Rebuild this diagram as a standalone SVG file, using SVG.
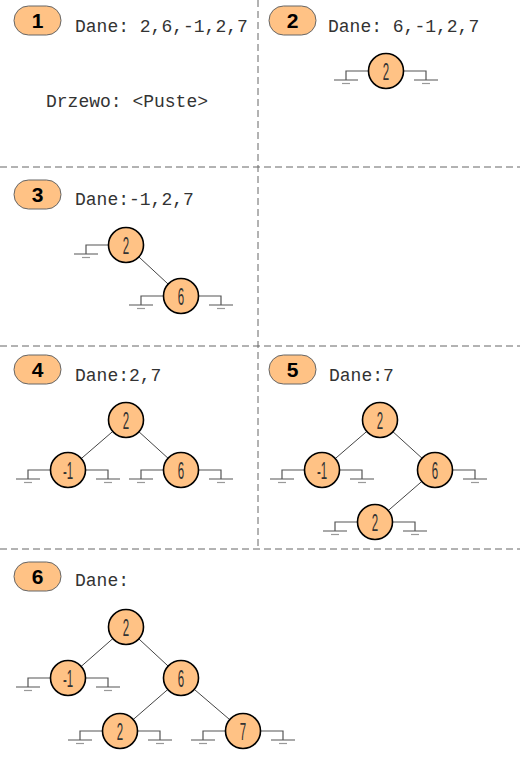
<svg xmlns="http://www.w3.org/2000/svg" xmlns:xlink="http://www.w3.org/1999/xlink" width="520" height="768" viewBox="0 0 520 768">
<style>
.sep{stroke:#666;stroke-width:1;stroke-dasharray:7,4;fill:none}
.badge{fill:#FFC285;stroke:#666;stroke-width:1}
.bnum{font-family:"Liberation Sans",Arial,sans-serif;font-weight:bold;font-size:21px;text-anchor:middle;fill:#000}
.data{font-family:"Liberation Mono","Courier New",monospace;font-size:18px;fill:#333}
.node{fill:#FFC285;stroke:#000;stroke-width:1.6}
.lbl{font-family:"Liberation Sans",Arial,sans-serif;font-size:23px;text-anchor:middle;fill:#333}
.edge{stroke:#444;stroke-width:1;fill:none}
.gnd{stroke:#555;stroke-width:1.2;fill:none}
.gnd2{stroke:#999;stroke-width:1.2;fill:none}
</style>
<defs>
<g id="gl"><path class="gnd" d="M-17.5 0H-40V9M-52 9H-28"/><path class="gnd2" d="M-44 12.5H-36"/></g>
<g id="gr"><path class="gnd" d="M17.5 0H40V9M28 9H52"/><path class="gnd2" d="M36 12.5H44"/></g>
</defs>
<rect width="520" height="768" fill="#fff"/>
<g id="separators">
<path class="sep" d="M0 167H520M0 346H520M0 549H520M258 0V549"/>
</g>
<g id="panel1">
<rect class="badge" x="14" y="6" width="47" height="29" rx="14.5"/>
<text class="bnum" x="37.5" y="28">1</text>
<text class="data" x="75" y="32">Dane: 2,6,-1,2,7</text>
<text class="data" x="46" y="107">Drzewo: &lt;Puste&gt;</text>
</g>
<g id="panel2">
<rect class="badge" x="269" y="6" width="47" height="29" rx="14.5"/>
<text class="bnum" x="292.5" y="28">2</text>
<text class="data" x="328" y="32">Dane: 6,-1,2,7</text>
</g>
<g id="panel3">
<rect class="badge" x="14" y="180" width="47" height="29" rx="14.5"/>
<text class="bnum" x="37.5" y="202">3</text>
<text class="data" x="75" y="205">Dane:-1,2,7</text>
</g>
<g id="panel4">
<rect class="badge" x="14" y="355" width="47" height="29" rx="14.5"/>
<text class="bnum" x="37.5" y="377">4</text>
<text class="data" x="75" y="381">Dane:2,7</text>
</g>
<g id="panel5">
<rect class="badge" x="269" y="355" width="47" height="29" rx="14.5"/>
<text class="bnum" x="292.5" y="377">5</text>
<text class="data" x="329" y="381">Dane:7</text>
</g>
<g id="panel6">
<rect class="badge" x="14" y="562" width="47" height="29" rx="14.5"/>
<text class="bnum" x="37.5" y="584">6</text>
<text class="data" x="75" y="586">Dane:</text>
</g>
<g id="connectors">
<line class="edge" x1="126" y1="245" x2="181" y2="296"/>
<line class="edge" x1="126" y1="420" x2="68" y2="470"/>
<line class="edge" x1="126" y1="420" x2="181" y2="470"/>
<line class="edge" x1="380" y1="420" x2="322" y2="470"/>
<line class="edge" x1="380" y1="420" x2="435" y2="470"/>
<line class="edge" x1="435" y1="470" x2="375" y2="522"/>
<line class="edge" x1="126" y1="627" x2="68" y2="678"/>
<line class="edge" x1="126" y1="627" x2="181" y2="678"/>
<line class="edge" x1="181" y1="678" x2="120" y2="731"/>
<line class="edge" x1="181" y1="678" x2="243" y2="731"/>
</g>
<g id="p2n2" transform="translate(386,71)"><use xlink:href="#gl"/><use xlink:href="#gr"/><circle class="node" r="17.5"/><text class="lbl" transform="translate(0,8.5) scale(0.5,1)">2</text></g>
<g id="p3n2" transform="translate(126,245)"><use xlink:href="#gl"/><circle class="node" r="17.5"/><text class="lbl" transform="translate(0,8.5) scale(0.5,1)">2</text></g>
<g id="p3n6" transform="translate(181,296)"><use xlink:href="#gl"/><use xlink:href="#gr"/><circle class="node" r="17.5"/><text class="lbl" transform="translate(0,8.5) scale(0.5,1)">6</text></g>
<g id="p4n2" transform="translate(126,420)"><circle class="node" r="17.5"/><text class="lbl" transform="translate(0,8.5) scale(0.5,1)">2</text></g>
<g id="p4nm1" transform="translate(68,470)"><use xlink:href="#gl"/><use xlink:href="#gr"/><circle class="node" r="17.5"/><text class="lbl" transform="translate(0,8.5) scale(0.5,1)">-1</text></g>
<g id="p4n6" transform="translate(181,470)"><use xlink:href="#gl"/><use xlink:href="#gr"/><circle class="node" r="17.5"/><text class="lbl" transform="translate(0,8.5) scale(0.5,1)">6</text></g>
<g id="p5n2" transform="translate(380,420)"><circle class="node" r="17.5"/><text class="lbl" transform="translate(0,8.5) scale(0.5,1)">2</text></g>
<g id="p5nm1" transform="translate(322,470)"><use xlink:href="#gl"/><use xlink:href="#gr"/><circle class="node" r="17.5"/><text class="lbl" transform="translate(0,8.5) scale(0.5,1)">-1</text></g>
<g id="p5n6" transform="translate(435,470)"><use xlink:href="#gr"/><circle class="node" r="17.5"/><text class="lbl" transform="translate(0,8.5) scale(0.5,1)">6</text></g>
<g id="p5n2b" transform="translate(375,522)"><use xlink:href="#gl"/><use xlink:href="#gr"/><circle class="node" r="17.5"/><text class="lbl" transform="translate(0,8.5) scale(0.5,1)">2</text></g>
<g id="p6n2" transform="translate(126,627)"><circle class="node" r="17.5"/><text class="lbl" transform="translate(0,8.5) scale(0.5,1)">2</text></g>
<g id="p6nm1" transform="translate(68,678)"><use xlink:href="#gl"/><use xlink:href="#gr"/><circle class="node" r="17.5"/><text class="lbl" transform="translate(0,8.5) scale(0.5,1)">-1</text></g>
<g id="p6n6" transform="translate(181,678)"><circle class="node" r="17.5"/><text class="lbl" transform="translate(0,8.5) scale(0.5,1)">6</text></g>
<g id="p6n2b" transform="translate(120,731)"><use xlink:href="#gl"/><use xlink:href="#gr"/><circle class="node" r="17.5"/><text class="lbl" transform="translate(0,8.5) scale(0.5,1)">2</text></g>
<g id="p6n7" transform="translate(243,731)"><use xlink:href="#gl"/><use xlink:href="#gr"/><circle class="node" r="17.5"/><text class="lbl" transform="translate(0,8.5) scale(0.5,1)">7</text></g>
</svg>
